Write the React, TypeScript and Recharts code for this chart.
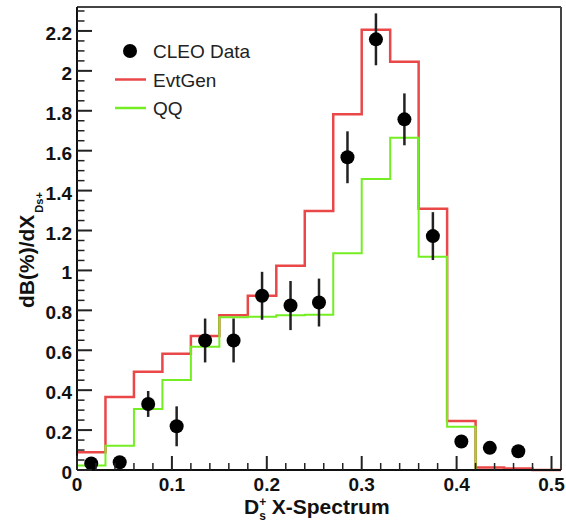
import {
  ComposedChart,
  Line,
  Scatter,
  ErrorBar,
  XAxis,
  YAxis,
  ReferenceLine,
  Legend,
} from "recharts";

/* ── Data ────────────────────────────────────────────────────── */

const binEdges = [
  0, 0.03, 0.06, 0.09, 0.12, 0.15, 0.18, 0.21, 0.24, 0.27, 0.3, 0.33, 0.36,
  0.39, 0.42, 0.45, 0.48, 0.51,
];

const evtGen = [
  0.089, 0.366, 0.492, 0.583, 0.671, 0.775, 0.873, 1.024, 1.298, 1.782, 2.206,
  2.046, 1.309, 0.245, 0.012, 0.007, 0,
];

const qq = [
  0.022, 0.122, 0.306, 0.451, 0.618, 0.765, 0.768, 0.775, 0.778, 1.086, 1.458,
  1.665, 1.069, 0.217, 0, 0, 0,
];

const cleoX = [
  0.015, 0.045, 0.075, 0.105, 0.135, 0.165, 0.195, 0.225, 0.255, 0.285, 0.315,
  0.345, 0.375, 0.405, 0.435, 0.465,
];
const cleoY = [
  0.033, 0.039, 0.331, 0.219, 0.649, 0.649, 0.873, 0.824, 0.839, 1.567, 2.158,
  1.757, 1.172, 0.143, 0.111, 0.094,
];
const cleoErr = [
  0.02, 0.02, 0.065, 0.1, 0.11, 0.11, 0.12, 0.123, 0.12, 0.13, 0.13, 0.13,
  0.12, 0.02, 0.02, 0.02,
];

const xMajorTicks = [0, 0.1, 0.2, 0.3, 0.4, 0.5];
const yMajorTicks = [0, 0.2, 0.4, 0.6, 0.8, 1, 1.2, 1.4, 1.6, 1.8, 2, 2.2];
const xMax = 0.51;
const yMax = 2.32;

const legendItems = [
  { name: "CLEO Data", kind: "dot", color: "#000" },
  { name: "EvtGen", kind: "line", color: "#ea4848" },
  { name: "QQ", kind: "line", color: "#74ee22" },
];

/* ── Helpers ─────────────────────────────────────────────────── */

const FONT = "'Liberation Sans', Arial, Helvetica, sans-serif";

const stepData = (vals: number[]) =>
  binEdges.map((x, i) => ({ x, y: vals[Math.min(i, vals.length - 1)] }));

const cleoData = cleoX.map((x, i) => ({ x, y: cleoY[i], err: cleoErr[i] }));

// minor ticks between the majors
const xTicks = Array.from({ length: 26 }, (_, i) => +(i * 0.02).toFixed(2));
const yTicks = Array.from({ length: 47 }, (_, i) => +(i * 0.05).toFixed(2));

const isMajor = (v: number, majors: number[]) =>
  majors.some((m) => Math.abs(m - v) < 1e-6);

function XTick({ x, y, payload }: any) {
  const major = isMajor(payload.value, xMajorTicks);
  return (
    <g>
      <line
        x1={x}
        x2={x}
        y1={y}
        y2={y - (major ? 14 : 7)}
        stroke="#222"
        strokeWidth={major ? 2 : 1.5}
      />
      {major && (
        <text
          x={x}
          y={y + 21}
          textAnchor="middle"
          fontFamily={FONT}
          fontWeight="bold"
          fontSize={19}
          fill="#111"
        >
          {String(payload.value)}
        </text>
      )}
    </g>
  );
}

function YTick({ x, y, payload }: any) {
  const major = isMajor(payload.value, yMajorTicks);
  return (
    <g>
      <line
        x1={x}
        x2={x + (major ? 15 : 7.5)}
        y1={y}
        y2={y}
        stroke="#222"
        strokeWidth={major ? 2 : 1.5}
      />
      {major && (
        <text
          x={x - 5}
          y={y + 9}
          textAnchor="end"
          fontFamily={FONT}
          fontWeight="bold"
          fontSize={19}
          fill="#111"
        >
          {String(payload.value)}
        </text>
      )}
    </g>
  );
}

function XTitle() {
  return (
    <text x={244} y={514} fontFamily={FONT} fontWeight="bold" fontSize={21} fill="#111">
      D
      <tspan fontSize={12} dy={-8}>+</tspan>
      <tspan fontSize={12} dx={-7} dy={14}>s</tspan>
      <tspan dy={-6}> X-Spectrum</tspan>
    </text>
  );
}

function YTitle() {
  return (
    <text
      transform="rotate(-90)"
      x={-308}
      y={33.5}
      fontFamily={FONT}
      fontWeight="bold"
      fontSize={21}
      fill="#111"
    >
      dB(%)/dX
      <tspan fontSize={11} dy={9} dx={2}>Ds+</tspan>
    </text>
  );
}

function LegendBox() {
  return (
    <svg width={220} height={90} style={{ overflow: "visible" }}>
      {legendItems.map((it, i) => {
        const cy = 17 + i * 28.5;
        return (
          <g key={it.name}>
            {it.kind === "dot" ? (
              <circle cx={30} cy={cy} r={7} fill={it.color} />
            ) : (
              <line x1={15} x2={46} y1={cy} y2={cy} stroke={it.color} strokeWidth={2.5} />
            )}
            <text x={53} y={cy + 7} fontFamily={FONT} fontSize={19} fill="#222">
              {it.name}
            </text>
          </g>
        );
      })}
    </svg>
  );
}

/* ── Chart ───────────────────────────────────────────────────── */

export default function App() {
  return (
    <div style={{ position: "absolute", left: 0, top: 0, background: "#fff" }}>
      <ComposedChart
        width={566}
        height={523}
        margin={{ top: 7, right: 5, bottom: 0, left: 0 }}
      >
        <XAxis
          type="number"
          dataKey="x"
          domain={[0, xMax]}
          ticks={xTicks}
          interval={0}
          height={53}
          tickSize={0}
          tickMargin={0}
          tickLine={false}
          tick={<XTick />}
          axisLine={{ stroke: "#111", strokeWidth: 2 }}
          label={{ content: () => <XTitle /> }}
        />
        <YAxis
          type="number"
          domain={[0, yMax]}
          ticks={yTicks}
          interval={0}
          width={77}
          tickSize={0}
          tickMargin={0}
          tickLine={false}
          tick={<YTick />}
          axisLine={{ stroke: "#111", strokeWidth: 2 }}
          label={{ content: () => <YTitle /> }}
        />
        <ReferenceLine y={yMax} stroke="#444" strokeWidth={2} />
        <ReferenceLine x={xMax} stroke="#444" strokeWidth={2} />
        <Line
          data={stepData(evtGen)}
          dataKey="y"
          type="stepAfter"
          stroke="#ea4848"
          strokeWidth={2.5}
          dot={false}
          activeDot={false}
          isAnimationActive={false}
        />
        <Line
          data={stepData(qq)}
          dataKey="y"
          type="stepAfter"
          stroke="#74ee22"
          strokeWidth={2}
          dot={false}
          activeDot={false}
          isAnimationActive={false}
        />
        <Scatter
          data={cleoData}
          dataKey="y"
          isAnimationActive={false}
          shape={(p: any) => <circle cx={p.cx} cy={p.cy} r={7} fill="#000" />}
        >
          <ErrorBar
            dataKey="err"
            direction="y"
            width={0}
            stroke="#222"
            strokeWidth={2.5}
            isAnimationActive={false}
          />
        </Scatter>
        <Legend
          layout="horizontal"
          verticalAlign="middle"
          align="center"
          wrapperStyle={{ left: 100, top: 34, width: 220, height: 90 }}
          content={() => <LegendBox />}
        />
      </ComposedChart>
    </div>
  );
}
